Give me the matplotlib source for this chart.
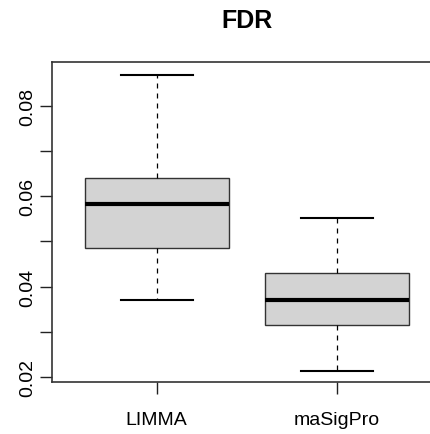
import matplotlib
matplotlib.use("Agg")
import matplotlib.pyplot as plt

plt.rcParams["font.family"] = ["Liberation Sans", "DejaVu Sans"]

# Summary statistics for each method's false discovery rate
methods = ["LIMMA", "maSigPro"]
whisker_low = [0.0371, 0.0213]
quartile_1 = [0.0486, 0.0315]
medians = [0.0582, 0.0371]
quartile_3 = [0.0639, 0.0430]
whisker_high = [0.0868, 0.0552]

y_ticks = [0.02, 0.03, 0.04, 0.05, 0.06, 0.07, 0.08]
y_tick_labels = ["0.02", "", "0.04", "", "0.06", "", "0.08"]

stats = []
for i, name in enumerate(methods):
    stats.append({
        "label": name,
        "whislo": whisker_low[i],
        "q1": quartile_1[i],
        "med": medians[i],
        "q3": quartile_3[i],
        "whishi": whisker_high[i],
        "fliers": [],
    })

fig = plt.figure(figsize=(4.31, 4.35), dpi=100)
ax = fig.add_axes([0.1213, 0.1189, 0.902, 0.7356])

ax.bxp(
    stats,
    positions=[1, 2],
    widths=0.8,
    patch_artist=True,
    showfliers=False,
    boxprops=dict(facecolor="#d3d3d3", edgecolor="#333333", linewidth=1.0),
    medianprops=dict(color="black", linewidth=3.0, solid_capstyle="butt"),
    whiskerprops=dict(color="black", linewidth=0.9, linestyle=(0, (4, 4))),
    capprops=dict(color="black", linewidth=1.5),
    capwidths=0.4,
)

ax.set_xlim(0.42, 2.58)
ax.set_ylim(0.01883, 0.0896)

ax.set_xticks([1, 2])
ax.set_xticklabels(methods, fontsize=14)
ax.set_yticks(y_ticks)
ax.set_yticklabels(y_tick_labels, fontsize=14, rotation=90, va="center")

ax.tick_params(axis="both", direction="out", length=8.6, width=1.0, color="#222222")
ax.tick_params(axis="x", pad=12)
ax.tick_params(axis="y", pad=3)

for spine in ax.spines.values():
    spine.set_linewidth(1.2)
    spine.set_color("#333333")

fig.text(246.7 / 431, 1 - 21 / 435, "FDR", fontsize=18, fontweight="bold",
         ha="center", va="center")

fig.savefig("out.png", dpi=100)
